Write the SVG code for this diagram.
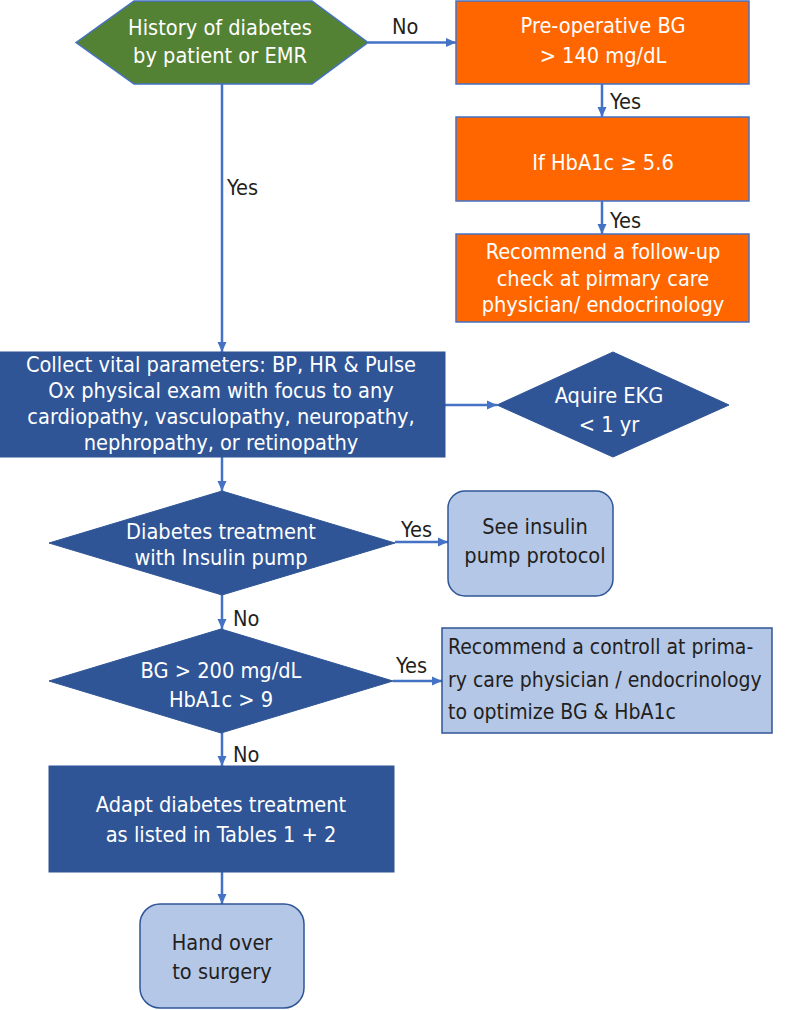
<svg xmlns="http://www.w3.org/2000/svg" width="790" height="1010" viewBox="0 0 790 1010">
<defs>
<style>
.t{font-family:"DejaVu Sans Condensed","DejaVu Sans",Verdana,sans-serif;font-stretch:condensed;font-size:21.6px;}
.s{font-size:21px;}
.w{fill:#ffffff;text-anchor:middle;}
.d{fill:#231f20;text-anchor:middle;}
.l{fill:#231f20;}
.dark{fill:#2f5597;stroke:#2f5597;stroke-width:1;}
.org{fill:#ff6600;stroke:#4472c4;stroke-width:1.5;}
.lite{fill:#b4c7e7;stroke:#2f5597;stroke-width:1.5;}
.c{stroke:#4472c4;stroke-width:2.5;fill:none;}
</style>
<marker id="ah" markerUnits="userSpaceOnUse" markerWidth="10" markerHeight="10" refX="10" refY="5" orient="auto">
<path d="M0,0.5 L10,5 L0,9.5 z" fill="#4472c4"/>
</marker>
</defs>
<rect width="790" height="1010" fill="#ffffff"/>
<g id="connectors">
<line class="c" x1="368" y1="42.5" x2="456" y2="42.5" marker-end="url(#ah)"/>
<line class="c" x1="222" y1="84" x2="222" y2="352" marker-end="url(#ah)"/>
<line class="c" x1="602" y1="84" x2="602" y2="117" marker-end="url(#ah)"/>
<line class="c" x1="602" y1="201" x2="602" y2="234" marker-end="url(#ah)"/>
<line class="c" x1="445" y1="405" x2="497" y2="405" marker-end="url(#ah)"/>
<line class="c" x1="222" y1="457" x2="222" y2="491" marker-end="url(#ah)"/>
<line class="c" x1="395" y1="542" x2="448" y2="542" marker-end="url(#ah)"/>
<line class="c" x1="222" y1="595" x2="222" y2="629" marker-end="url(#ah)"/>
<line class="c" x1="393" y1="681" x2="442" y2="681" marker-end="url(#ah)"/>
<line class="c" x1="222" y1="733" x2="222" y2="766" marker-end="url(#ah)"/>
<line class="c" x1="222" y1="872" x2="222" y2="904" marker-end="url(#ah)"/>
<text class="t l" x="392" y="34">No</text>
<text class="t l" x="227" y="195">Yes</text>
<text class="t l" x="610" y="109">Yes</text>
<text class="t l" x="610" y="228">Yes</text>
<text class="t l" x="401" y="537">Yes</text>
<text class="t l" x="233" y="626">No</text>
<text class="t l" x="396" y="673">Yes</text>
<text class="t l" x="233" y="762">No</text>
</g>
<g id="history">
<polygon points="76,42.5 134,1 312,1 368,42.5 312,84 134,84" fill="#548235" stroke="#4472c4" stroke-width="1.5"/>
<text class="t w" x="220" y="35">History of diabetes</text>
<text class="t w" x="220" y="63">by patient or EMR</text>
</g>
<g id="preop">
<rect class="org" x="456" y="1" width="293" height="83"/>
<text class="t w" x="603" y="33">Pre-operative BG</text>
<text class="t w" x="603" y="63">&gt; 140 mg/dL</text>
</g>
<g id="hba1c">
<rect class="org" x="456" y="117" width="293" height="84"/>
<text class="t w" x="603" y="170">If HbA1c ≥ 5.6</text>
</g>
<g id="followup">
<rect class="org" x="456" y="234" width="293" height="88"/>
<text class="t w" x="603" y="259">Recommend a follow-up</text>
<text class="t w" x="603" y="286">check at pirmary care</text>
<text class="t w" x="603" y="312">physician/ endocrinology</text>
</g>
<g id="collect">
<rect class="dark" x="0" y="352" width="445" height="105"/>
<text class="t w" x="221" y="372">Collect vital parameters: BP, HR &amp; Pulse</text>
<text class="t w" x="221" y="398">Ox physical exam with focus to any</text>
<text class="t w" x="221" y="424">cardiopathy, vasculopathy, neuropathy,</text>
<text class="t w" x="221" y="450">nephropathy, or retinopathy</text>
</g>
<g id="ekg">
<polygon class="dark" points="497,405 613,352 729,405 613,457"/>
<text class="t w" x="609" y="403">Aquire EKG</text>
<text class="t w" x="609" y="432">&lt; 1 yr</text>
</g>
<g id="pump">
<polygon class="dark" points="49,543 222,491 395,543 222,595"/>
<text class="t w" x="221" y="539">Diabetes treatment</text>
<text class="t w" x="221" y="565">with Insulin pump</text>
</g>
<g id="pumpprotocol">
<rect class="lite" x="448" y="491" width="165" height="105" rx="17"/>
<text class="t d" x="535" y="534">See insulin</text>
<text class="t d" x="535" y="563">pump protocol</text>
</g>
<g id="bg">
<polygon class="dark" points="49,681 221,629 393,681 221,733"/>
<text class="t w" x="221" y="678">BG &gt; 200 mg/dL</text>
<text class="t w" x="221" y="707">HbA1c &gt; 9</text>
</g>
<g id="control">
<rect class="lite" x="442" y="628" width="330" height="105"/>
<text class="t s l" x="448" y="654">Recommend a controll at prima-</text>
<text class="t s l" x="448" y="687">ry care physician / endocrinology</text>
<text class="t s l" x="448" y="719">to optimize BG &amp; HbA1c</text>
</g>
<g id="adapt">
<rect class="dark" x="49" y="766" width="345" height="106"/>
<text class="t w" x="221" y="812">Adapt diabetes treatment</text>
<text class="t w" x="221" y="842">as listed in Tables 1 + 2</text>
</g>
<g id="handover">
<rect class="lite" x="140" y="904" width="164" height="104" rx="20"/>
<text class="t d" x="222" y="950">Hand over</text>
<text class="t d" x="222" y="979">to surgery</text>
</g>
</svg>
